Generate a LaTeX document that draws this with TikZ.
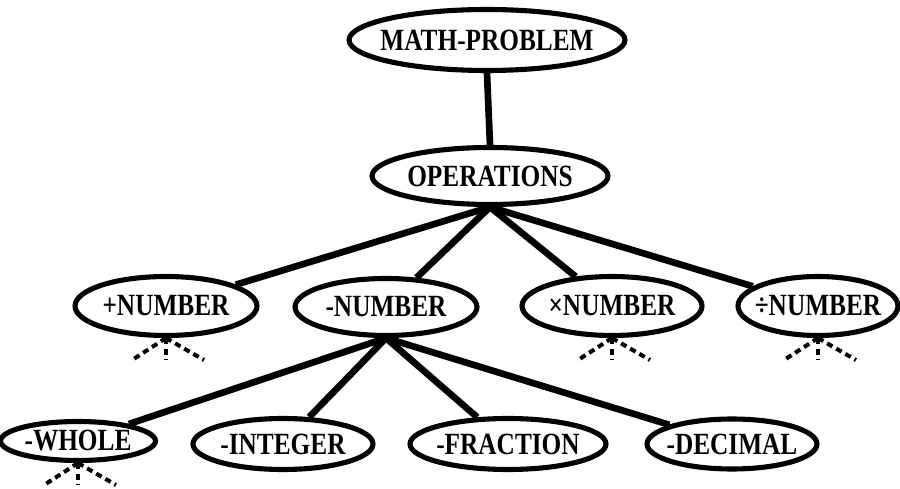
\documentclass[tikz,border=0pt]{standalone}
\usepackage{graphicx}
\usepackage{fontspec}
\setmainfont{Liberation Serif}
\usetikzlibrary{shapes.geometric}

\newcommand{\conceptname}[1]{\makebox[0pt]{\scalebox{1}[1.22]{#1}}}

\begin{document}
\begin{tikzpicture}[
  x=0.02cm, y=-0.02cm,
  every node/.style={font=\bfseries\fontsize{14.4}{16}\selectfont},
  concept/.style={draw, ellipse, line width=2.9pt, inner sep=0pt, fill=white},
  link/.style={line width=3.8pt},
  stub/.style={line width=2.3pt, dash pattern=on 3.5pt off 2.5pt},
]
\useasboundingbox (0,0) rectangle (900,489);

% top of the tree
\node[concept, minimum width=5.52cm, minimum height=1.22cm] (math) at (487,40) {\conceptname{MATH-PROBLEM}};
\node[concept, minimum width=4.72cm, minimum height=1.14cm] (ops) at (490,176) {\conceptname{OPERATIONS}};

% operations
\node[concept, minimum width=3.64cm, minimum height=1.18cm] (plus) at (166,306) {\conceptname{+NUMBER}};
\node[concept, minimum width=3.64cm, minimum height=1.14cm] (minus) at (386,307) {\conceptname{-NUMBER}};
\node[concept, minimum width=3.60cm, minimum height=1.18cm] (times) at (612,306) {\conceptname{×NUMBER}};
\node[concept, minimum width=3.20cm, minimum height=1.18cm] (div) at (818,306) {\conceptname{÷NUMBER}};

% kinds of number
\node[concept, minimum width=3.10cm, minimum height=0.78cm] (whole) at (78,441) {\conceptname{-WHOLE}};
\node[concept, minimum width=3.60cm, minimum height=1.02cm] (integer) at (283,444) {\conceptname{-INTEGER}};
\node[concept, minimum width=3.92cm, minimum height=1.02cm] (fraction) at (508,444) {\conceptname{-FRACTION}};
\node[concept, minimum width=3.40cm, minimum height=1.00cm] (decimal) at (732,444) {\conceptname{-DECIMAL}};

\draw[link] (math.south) -- (ops.north);
\foreach \n in {plus, minus, times, div}
  \draw[link] (ops.south) -- (\n);
\foreach \n in {whole, integer, fraction, decimal}
  \draw[link] (minus.south) -- (\n);

% folded branches
\foreach \n in {plus, times, div, whole} {
  \draw[stub] (\n.south) -- ++(-34,22);
  \draw[stub] (\n.south) -- ++(0,22);
  \draw[stub] (\n.south) -- ++(38,22);
}
\end{tikzpicture}
\end{document}
